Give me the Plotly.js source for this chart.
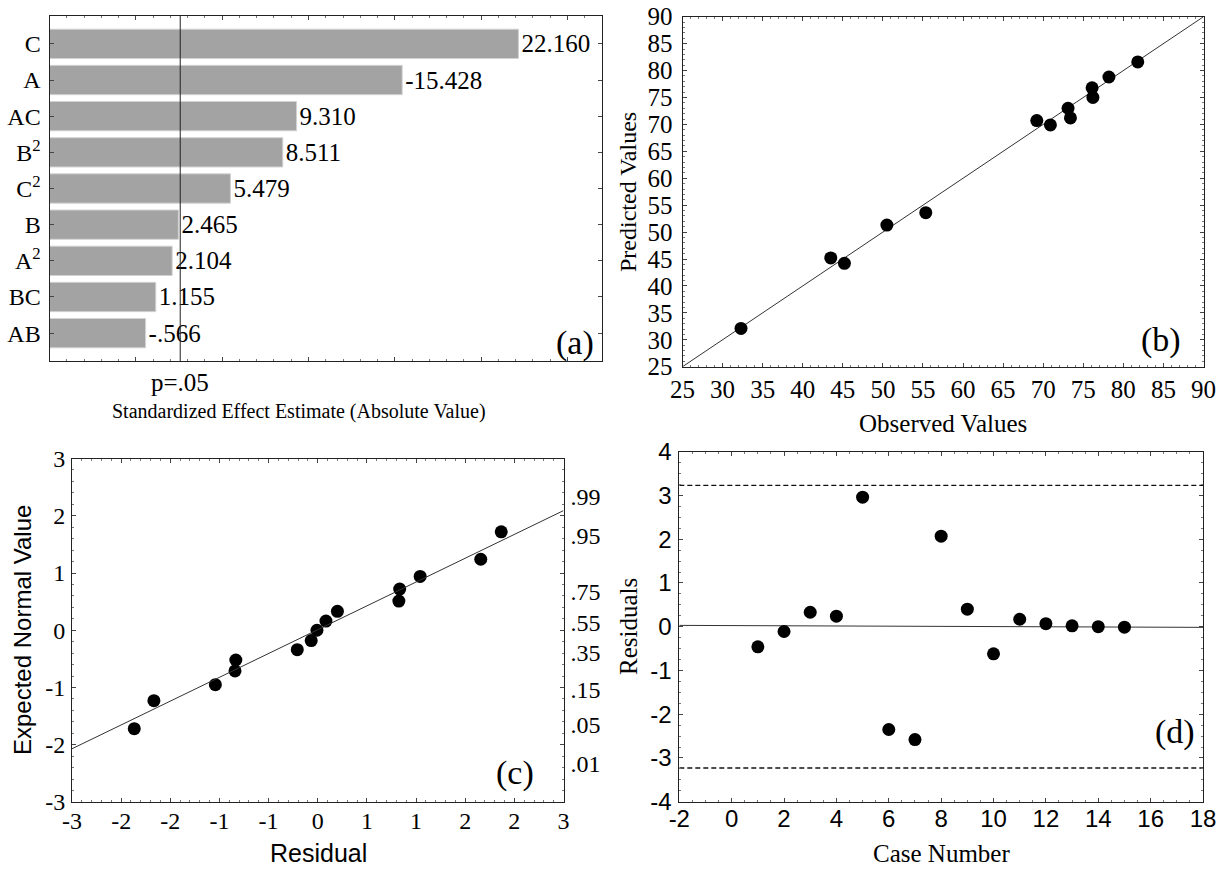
<!DOCTYPE html>
<html>
<head>
<meta charset="utf-8">
<script src="https://cdn.plot.ly/plotly-3.0.1.min.js"></script>
<style>html,body{margin:0;padding:0;background:#fff;}#chart{width:1231px;height:869px;}</style>
</head>
<body>
<div id="chart"></div>
<script>
// ---------- data ----------
// (a) Pareto chart of standardized effects
const effectTerms = ['C', 'A', 'AC', 'B<sup>2</sup>', 'C<sup>2</sup>', 'B', 'A<sup>2</sup>', 'BC', 'AB'];
const effectValues = [22.160, -15.428, 9.310, 8.511, 5.479, 2.465, 2.104, 1.155, -0.566];
const effectLabels = ['22.160', '-15.428', '9.310', '8.511', '5.479', '2.465', '2.104', '1.155', '-.566'];
const pCritical = 2.571;
const effectAxisRange = [-5, 27];

// (b) observed vs predicted
const observedValues = [32.3, 43.5, 45.2, 50.5, 55.35, 69.2, 70.9, 73.1, 73.4, 76.1, 76.2, 78.2, 81.8];
const predictedValues = [32.1, 45.2, 44.2, 51.3, 53.6, 70.7, 69.9, 73.0, 71.2, 76.8, 75.0, 78.8, 81.6];
const diagonalRange = [25, 90];

// (c) normal probability plot of residuals
const normResiduals = [-2.24, -2.00, -1.25, -1.00, -1.01, -0.25, -0.08, -0.01, 0.10, 0.24, 1.00, 0.99, 1.25, 1.99, 2.24];
const normExpected = [-1.72, -1.23, -0.95, -0.52, -0.71, -0.34, -0.18, 0.00, 0.16, 0.33, 0.72, 0.51, 0.94, 1.24, 1.72];
const normFitX = [-3, 3];
const normFitY = [-2.07, 2.09];
const residTickVals = [-3, -2.4, -1.8, -1.2, -0.6, 0, 0.6, 1.2, 1.8, 2.4, 3];
const residTickText = ['-3', '-2', '-2', '-1', '-1', '0', '1', '1', '2', '2', '3'];
const normTickVals = [-3, -2, -1, 0, 1, 2, 3];
const normTickText = ['-3', '-2', '-1', '0', '1', '2', '3'];
const probTickVals = [-2.326, -1.645, -1.036, -0.385, 0.126, 0.674, 1.645, 2.326];
const probTickText = ['.01', '.05', '.15', '.35', '.55', '.75', '.95', '.99'];

// (d) residuals vs case number
const caseNumbers = [1, 2, 3, 4, 5, 6, 7, 8, 9, 10, 11, 12, 13, 14, 15];
const caseResiduals = [-0.46, -0.11, 0.33, 0.24, 2.96, -2.35, -2.58, 2.07, 0.40, -0.62, 0.17, 0.07, 0.02, 0.00, -0.01];
const caseFitX = [-2, 18];
const caseFitY = [0.03, -0.015];
const residLimit = 3.23;
const caseTickVals = [-2, 0, 2, 4, 6, 8, 10, 12, 14, 16, 18];
const caseTickText = ['-2', '0', '2', '4', '6', '8', '10', '12', '14', '16', '18'];
const residAxisTickVals = [-4, -3, -2, -1, 0, 1, 2, 3, 4];
const residAxisTickText = ['-4', '-3', '-2', '-1', '0', '1', '2', '3', '4'];

// ---------- layout helpers ----------
const W = 1231, H = 869;
const dx = (l, r) => [l / W, r / W];
const dy = (t, b) => [1 - b / H, 1 - t / H];
const serif = 'Liberation Serif, Times New Roman, serif';
const sans = 'Liberation Sans, Arial, sans-serif';

function frameAxis(extra) {
  return Object.assign({
    showline: true, linecolor: '#222', linewidth: 1, mirror: 'ticks',
    ticks: 'inside', ticklen: 4, tickwidth: 1, tickcolor: '#444',
    showgrid: false, zeroline: false, fixedrange: true,
    tickfont: {family: serif, size: 24, color: '#000'}
  }, extra);
}
function minor(d) { return {ticks: 'inside', ticklen: 2, tickwidth: 1, tickcolor: '#777', dtick: d, showgrid: false}; }

const dom = {
  a: {x: dx(49.5, 602), y: dy(16, 361)},
  b: {x: dx(682.5, 1203.5), y: dy(16.7, 366.7)},
  c: {x: dx(72, 563.5), y: dy(458.5, 802)},
  d: {x: dx(679.3, 1203), y: dy(451.7, 801.7)}
};

const dot = {color: '#000', size: 13};
const thin = {color: '#333', width: 1};
const dashed = {color: '#111', width: 1.4, dash: '5px,3px'};

const traces = [
  {
    type: 'bar', orientation: 'h', xaxis: 'x', yaxis: 'y',
    y: effectTerms,
    x: effectValues.map(v => Math.abs(v) - effectAxisRange[0]),
    base: effectAxisRange[0],
    width: 0.81,
    text: effectLabels, textposition: 'outside', constraintext: 'none', cliponaxis: false,
    textfont: {family: serif, size: 25, color: '#000'},
    marker: {color: '#a3a3a3', line: {color: '#d2d2d2', width: 1}},
    hoverinfo: 'skip'
  },
  {type: 'scatter', mode: 'lines', xaxis: 'x2', yaxis: 'y2', x: diagonalRange, y: diagonalRange, line: thin, hoverinfo: 'skip'},
  {type: 'scatter', mode: 'markers', xaxis: 'x2', yaxis: 'y2', x: observedValues, y: predictedValues, marker: dot},
  {type: 'scatter', mode: 'lines', xaxis: 'x3', yaxis: 'y5', x: normFitX, y: normFitY, line: thin, hoverinfo: 'skip'},
  {type: 'scatter', mode: 'markers', xaxis: 'x3', yaxis: 'y3', x: normResiduals, y: normExpected, marker: dot},
  {type: 'scatter', mode: 'lines', xaxis: 'x4', yaxis: 'y4', x: caseFitX, y: caseFitY, line: thin, hoverinfo: 'skip'},
  {type: 'scatter', mode: 'lines', xaxis: 'x4', yaxis: 'y4', x: caseFitX, y: [residLimit, residLimit], line: dashed, hoverinfo: 'skip'},
  {type: 'scatter', mode: 'lines', xaxis: 'x4', yaxis: 'y4', x: caseFitX, y: [-residLimit, -residLimit], line: dashed, hoverinfo: 'skip'},
  {type: 'scatter', mode: 'markers', xaxis: 'x4', yaxis: 'y4', x: caseNumbers, y: caseResiduals, marker: dot}
];

const ann = (text, px, py, opts) => Object.assign({
  text: text, xref: 'paper', yref: 'paper', x: px / W, y: 1 - py / H,
  xanchor: 'center', yanchor: 'middle', showarrow: false,
  font: {family: serif, size: 24, color: '#000'}
}, opts || {});

const layout = {
  width: W, height: H, margin: {l: 0, r: 0, t: 0, b: 0},
  paper_bgcolor: '#fff', plot_bgcolor: '#fff', showlegend: false,
  font: {family: serif, color: '#000'},
  xaxis: frameAxis({domain: dom.a.x, anchor: 'y', range: effectAxisRange, tickvals: [0, 5, 10, 15, 20, 25], showticklabels: false, minor: minor(1)}),
  yaxis: frameAxis({domain: dom.a.y, anchor: 'x', type: 'category', categoryorder: 'array', categoryarray: effectTerms,
    range: [8.77, -0.77], ticklabelstandoff: 3}),
  xaxis2: frameAxis({domain: dom.b.x, anchor: 'y2', range: diagonalRange, dtick: 5, tick0: 25, minor: minor(1), ticklabelstandoff: 0,
    tickfont: {family: serif, size: 25, color: '#000'}}),
  yaxis2: frameAxis({domain: dom.b.y, anchor: 'x2', range: diagonalRange, dtick: 5, tick0: 25, minor: minor(1), ticklabelstandoff: 4,
    tickfont: {family: serif, size: 25, color: '#000'}}),
  xaxis3: frameAxis({domain: dom.c.x, anchor: 'y3', range: [-3, 3], tickmode: 'array', tickvals: residTickVals, ticktext: residTickText,
    minor: {ticks: 'inside', ticklen: 2, tickcolor: '#777', tickvals: [-2.88,-2.76,-2.64,-2.52,-2.28,-2.16,-2.04,-1.92,-1.68,-1.56,-1.44,-1.32,-1.08,-0.96,-0.84,-0.72,-0.48,-0.36,-0.24,-0.12,0.12,0.24,0.36,0.48,0.72,0.84,0.96,1.08,1.32,1.44,1.56,1.68,1.92,2.04,2.16,2.28,2.52,2.64,2.76,2.88]},
    ticklabelstandoff: -3}),
  yaxis3: frameAxis({domain: dom.c.y, anchor: 'x3', range: [-3, 3], tickmode: 'array', tickvals: normTickVals, ticktext: normTickText,
    minor: minor(0.2), ticklabelstandoff: 1}),
  yaxis5: {overlaying: 'y3', anchor: 'x3', side: 'right', range: [-3, 3], tickmode: 'array', tickvals: probTickVals, ticktext: probTickText,
    showline: false, ticks: '', showgrid: false, zeroline: false, fixedrange: true, ticklabelstandoff: 6,
    tickfont: {family: serif, size: 24, color: '#000'}},
  xaxis4: frameAxis({domain: dom.d.x, anchor: 'y4', range: [-2, 18], tickmode: 'array', tickvals: caseTickVals, ticktext: caseTickText,
    minor: minor(0.5), ticklabelstandoff: -5,
    tickfont: {family: sans, size: 24, color: '#000'}}),
  yaxis4: frameAxis({domain: dom.d.y, anchor: 'x4', range: [-4, 4], tickmode: 'array', tickvals: residAxisTickVals, ticktext: residAxisTickText,
    minor: minor(0.25), ticklabelstandoff: 2,
    tickfont: {family: sans, size: 24, color: '#000'}}),
  shapes: [
    {type: 'line', xref: 'x', yref: 'y domain', x0: pCritical, x1: pCritical, y0: 0, y1: 1, line: {color: '#222', width: 1}}
  ],
  annotations: [
    Object.assign(ann('p=.05', 0, 382, {font: {family: serif, size: 25, color: '#000'}}), {xref: 'x', x: pCritical}),
    ann('Standardized Effect Estimate (Absolute Value)', 299, 411, {font: {family: serif, size: 20, color: '#000'}}),
    ann('(a)', 575, 343, {font: {family: serif, size: 34, color: '#000'}}),
    ann('Observed Values', 943, 423, {font: {family: serif, size: 25, color: '#000'}}),
    ann('Predicted Values', 628, 192, {textangle: -90}),
    ann('(b)', 1161, 340, {font: {family: serif, size: 34, color: '#000'}}),
    ann('Residual', 318, 853, {font: {family: sans, size: 25, color: '#000'}}),
    ann('Expected Normal Value', 22, 630, {textangle: -90, font: {family: sans, size: 24, color: '#000'}}),
    ann('(c)', 515, 773, {font: {family: serif, size: 34, color: '#000'}}),
    ann('Case Number', 941, 853, {font: {family: serif, size: 25, color: '#000'}}),
    ann('Residuals', 628, 627, {textangle: -90, font: {family: serif, size: 25, color: '#000'}}),
    ann('(d)', 1175, 732, {font: {family: serif, size: 34, color: '#000'}})
  ]
};

Plotly.newPlot('chart', traces, layout, {staticPlot: true, displayModeBar: false});
</script>
</body>
</html>
